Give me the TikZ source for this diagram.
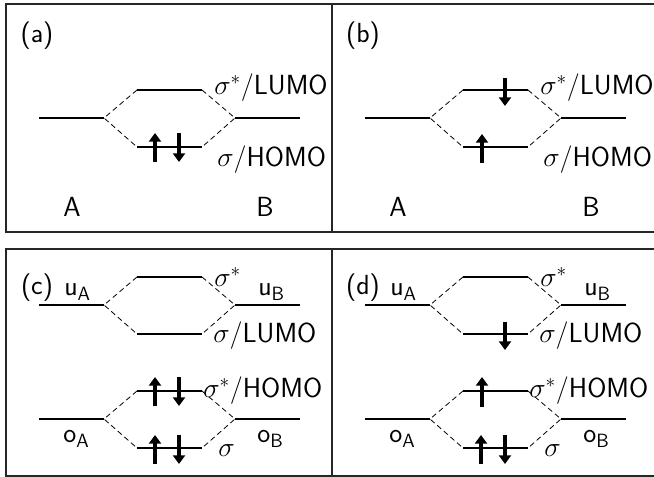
\documentclass[tikz,border=0pt]{standalone}
\usepackage{amsmath}
\usetikzlibrary{arrows.meta}
\tikzset{
    % energy level and correlation lines
    level/.style={line width=1.8pt},
    corr/.style={line width=0.6pt, dash pattern=on 4pt off 2.6pt},
    spin/.style={
        line width=2.8pt,
        -{Triangle[length=6.5pt, width=9pt]}
    },
    frame/.style={line width=0.9pt, black!85},
    lbl/.style={inner sep=0pt, font=\sffamily\huge},
    % one splitting: two atomic levels, bonding and antibonding level
    mosplit/.pic={
        \coordinate (-al) at (39,0);
        \coordinate (-ar) at (104,0);
        \coordinate (-ul) at (137,-28);
        \coordinate (-ur) at (202,-28);
        \coordinate (-dl) at (137,29);
        \coordinate (-dr) at (202,29);
        \coordinate (-bl) at (235,0);
        \coordinate (-br) at (300,0);
        \draw[level] (-al) -- (-ar);
        \draw[level] (-ul) -- (-ur);
        \draw[level] (-dl) -- (-dr);
        \draw[level] (-bl) -- (-br);
        \draw[corr] (-ul) -- (-ar) -- (-dl);
        \draw[corr] (-ur) -- (-bl) -- (-dr);
    }
}

\begin{document}
\begin{tikzpicture}[x=0.75pt, y=-0.75pt]
    \useasboundingbox (0,0) rectangle (654,477);

    % frames
    \draw[frame] (654,4) -- (6,4) -- (6,232) -- (654,232);
    \draw[frame] (332,4) -- (332,232);
    \draw[frame] (654,249) -- (6,249) -- (6,476) -- (654,476);
    \draw[frame] (332,249) -- (332,476);

    % levels
    \pic (a) at (0,118) {mosplit};
    \pic (b) at (326,118) {mosplit};
    \pic (cu) at (0,305) {mosplit};
    \pic (co) at (0,419) {mosplit};
    \pic (du) at (326,305) {mosplit};
    \pic (do) at (326,419) {mosplit};

    % electrons
    \draw[spin] ([shift={(18,15)}]a-dl) -- ([shift={(18,-14)}]a-dl);
    \draw[spin] ([shift={(42,-14)}]a-dl) -- ([shift={(42,15)}]a-dl);

    \draw[spin] ([shift={(42,-12)}]b-ul) -- ([shift={(42,16)}]b-ul);
    \draw[spin] ([shift={(19,16)}]b-dl) -- ([shift={(19,-13)}]b-dl);

    \draw[spin] ([shift={(18,15)}]co-ul) -- ([shift={(18,-14)}]co-ul);
    \draw[spin] ([shift={(42,-14)}]co-ul) -- ([shift={(42,15)}]co-ul);
    \draw[spin] ([shift={(18,16)}]co-dl) -- ([shift={(18,-13)}]co-dl);
    \draw[spin] ([shift={(42,-13)}]co-dl) -- ([shift={(42,16)}]co-dl);

    \draw[spin] ([shift={(42,-12)}]du-dl) -- ([shift={(42,16)}]du-dl);
    \draw[spin] ([shift={(19,16)}]do-ul) -- ([shift={(19,-14)}]do-ul);
    \draw[spin] ([shift={(18,16)}]do-dl) -- ([shift={(18,-13)}]do-dl);
    \draw[spin] ([shift={(42,-13)}]do-dl) -- ([shift={(42,16)}]do-dl);

    % labels (a) and (b)
    \node[lbl] (la) at (37,36) {(a)};
    \node[lbl] (lb) at (363,36) {(b)};
    \node[lbl, anchor=base west] (astar) at (214,95) {$\sigma^*$/LUMO};
    \node[lbl, anchor=base west] (asig) at (217,167) {$\sigma$/HOMO};
    \node[lbl, anchor=base west] (bstar) at (540,95) {$\sigma^*$/LUMO};
    \node[lbl, anchor=base west] (bsig) at (543,167) {$\sigma$/HOMO};
    \node[lbl] (aA) at (72,207) {A};
    \node[lbl] (aB) at (265,207) {B};
    \node[lbl] (bA) at (398,207) {A};
    \node[lbl] (bB) at (591,207) {B};

    % labels (c) and (d)
    \node[lbl] (lc) at (37,288) {(c)};
    \node[lbl] (ld) at (363,288) {(d)};
    \foreach \dx/\p in {0/c, 326/d} {
        \node[lbl, anchor=base west] (\p ustar) at (214+\dx,287) {$\sigma^*$};
        \node[lbl, anchor=base west] (\p usig) at (213+\dx,343) {$\sigma$/LUMO};
        \node[lbl, anchor=base west] (\p ostar) at (203+\dx,398) {$\sigma^*$/HOMO};
        \node[lbl, anchor=base west] (\p osig) at (218+\dx,457) {$\sigma$};
        \node[lbl, anchor=base west] (\p uA) at (64+\dx,296) {u$_\textsf{A}$};
        \node[lbl, anchor=base west] (\p uB) at (258+\dx,296) {u$_\textsf{B}$};
        \node[lbl, anchor=base west] (\p oA) at (63+\dx,443) {o$_\textsf{A}$};
        \node[lbl, anchor=base west] (\p oB) at (257+\dx,443) {o$_\textsf{B}$};
    }
\end{tikzpicture}
\end{document}
